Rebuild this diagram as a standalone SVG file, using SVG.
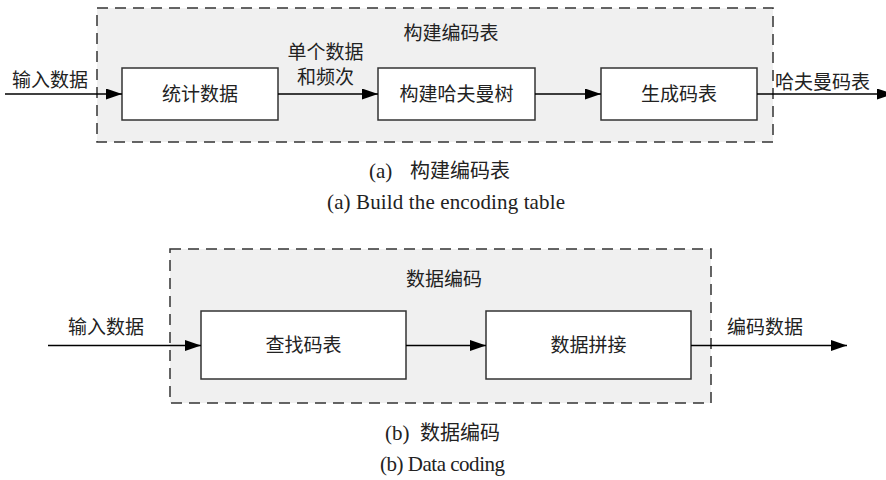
<svg xmlns="http://www.w3.org/2000/svg" width="886" height="480" viewBox="0 0 886 480">
<defs>
<style>
.grp{fill:#f0f0f0;stroke:#333;stroke-width:1.5;stroke-dasharray:11 7}
.box{fill:#fff;stroke:#333;stroke-width:1.5}
.t{font-family:"Noto Sans CJK SC","Liberation Sans",sans-serif;font-size:19px;fill:#222}
.c{text-anchor:middle}
.cap{font-family:"Liberation Serif","Noto Sans CJK SC",serif;font-size:21px;fill:#222}
.capz{font-family:"Noto Sans CJK SC",sans-serif;font-size:20px}
.ln{stroke:#000;stroke-width:1.4;fill:none}
</style>
<marker id="ah" viewBox="0 0 16 11" refX="16" refY="5.5" markerWidth="16" markerHeight="11" markerUnits="userSpaceOnUse" orient="auto">
<path d="M0,0 L16,5.5 L0,11 Z" fill="#000"/>
</marker>
</defs>
<rect width="886" height="480" fill="#fff"/>

<g id="group-a">
<rect class="grp" x="97" y="8" width="676" height="134"/>
<text class="t c" x="451" y="39.5">构建编码表</text>
</g>
<g id="group-b">
<rect class="grp" x="170" y="249" width="541" height="154"/>
<text class="t c" x="444" y="285.5">数据编码</text>
</g>

<g id="node-stat">
<rect class="box" x="122" y="68" width="156" height="52"/>
<text class="t c" x="200" y="100.5">统计数据</text>
</g>
<g id="node-tree">
<rect class="box" x="378" y="68" width="157" height="52"/>
<text class="t c" x="456.5" y="100.5">构建哈夫曼树</text>
</g>
<g id="node-table">
<rect class="box" x="601" y="68" width="156" height="52"/>
<text class="t c" x="679" y="100.5">生成码表</text>
</g>
<g id="node-lookup">
<rect class="box" x="201" y="311" width="205" height="68"/>
<text class="t c" x="303.5" y="352">查找码表</text>
</g>
<g id="node-concat">
<rect class="box" x="486" y="311" width="205" height="68"/>
<text class="t c" x="588.5" y="352">数据拼接</text>
</g>

<g id="connectors">
<line class="ln" x1="5" y1="94" x2="122" y2="94" marker-end="url(#ah)"/>
<line class="ln" x1="278" y1="94" x2="378" y2="94" marker-end="url(#ah)"/>
<line class="ln" x1="535" y1="94" x2="601" y2="94" marker-end="url(#ah)"/>
<line class="ln" x1="757" y1="94" x2="893" y2="94" marker-end="url(#ah)"/>
<line class="ln" x1="48" y1="345.5" x2="201" y2="345.5" marker-end="url(#ah)"/>
<line class="ln" x1="406" y1="345.5" x2="486" y2="345.5" marker-end="url(#ah)"/>
<line class="ln" x1="691" y1="345.5" x2="847" y2="345.5" marker-end="url(#ah)"/>
<text class="t" x="12" y="86.5">输入数据</text>
<text class="t c" x="325.5" y="58.5">单个数据</text>
<text class="t c" x="325.5" y="84">和频次</text>
<text class="t" x="775" y="88.5">哈夫曼码表</text>
<text class="t" x="68" y="333.5">输入数据</text>
<text class="t" x="727" y="333.5">编码数据</text>
</g>

<g id="captions">
<text class="cap" x="369" y="178">(a)<tspan class="capz" x="410">构建编码表</tspan></text>
<text class="cap" x="327" y="209" textLength="238" lengthAdjust="spacing">(a)  Build the encoding table</text>
<text class="cap" x="385" y="440">(b)<tspan class="capz" x="420">数据编码</tspan></text>
<text class="cap" x="380" y="471" textLength="125" lengthAdjust="spacing">(b)  Data coding</text>
</g>
</svg>
